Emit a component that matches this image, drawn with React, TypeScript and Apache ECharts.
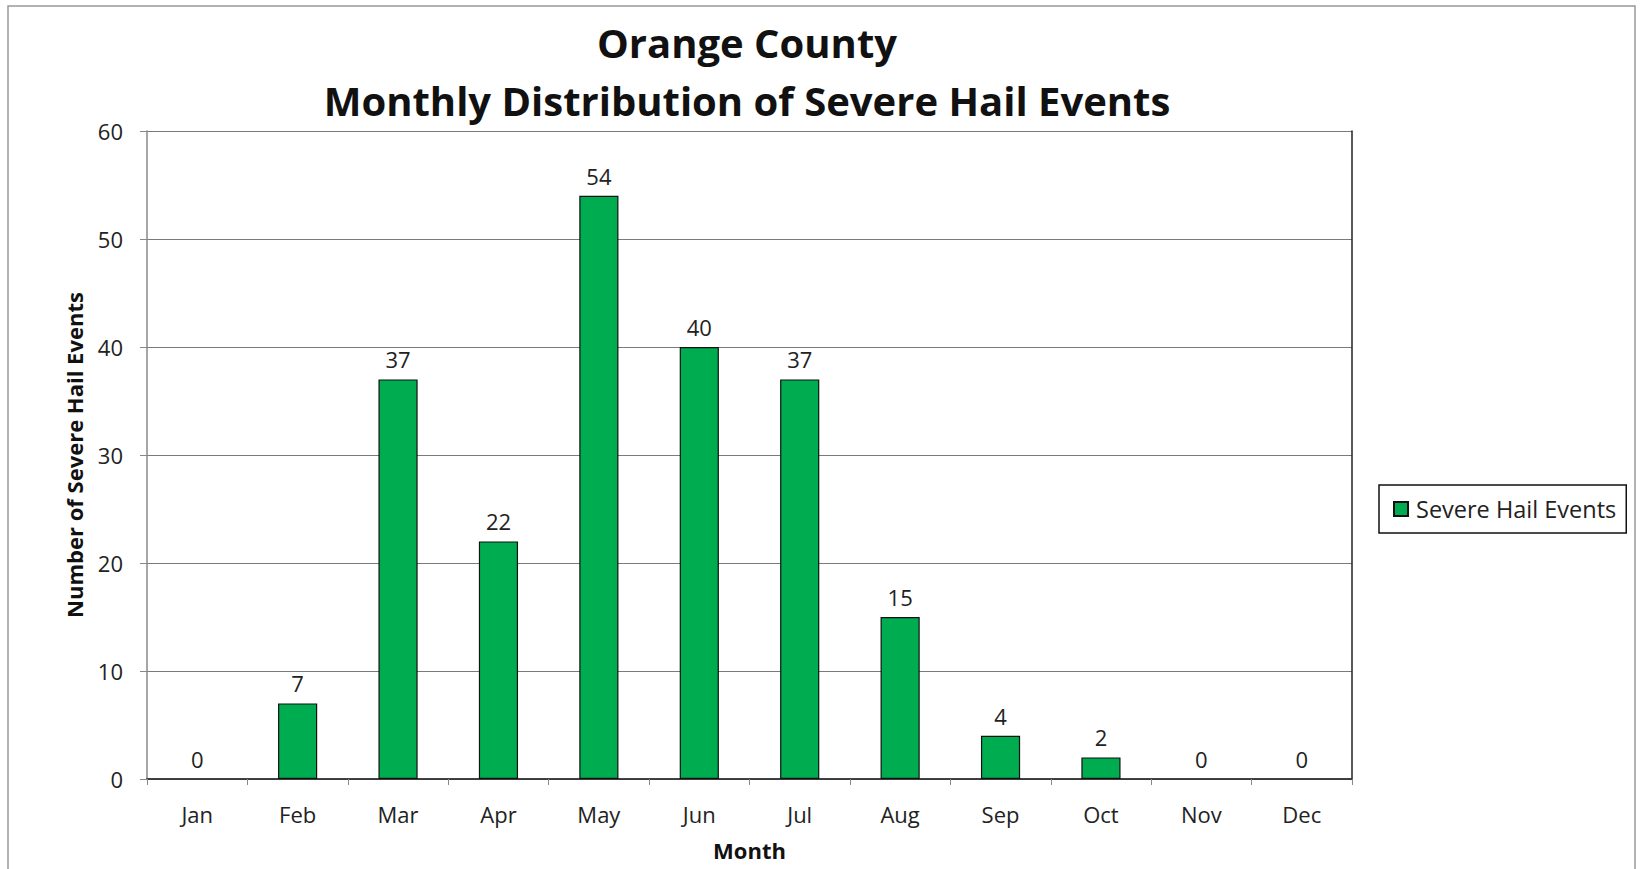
import React, { useEffect, useRef } from "react";
import * as echarts from "echarts";

const months = ["Jan", "Feb", "Mar", "Apr", "May", "Jun", "Jul", "Aug", "Sep", "Oct", "Nov", "Dec"];
const hailEvents = [0, 7, 37, 22, 54, 40, 37, 15, 4, 2, 0, 0];
const titleLines = ["Orange County", "Monthly Distribution of Severe Hail Events"];
const seriesName = "Severe Hail Events";

const FONT = "'Open Sans', 'Noto Sans', sans-serif";

export default function App() {
  const ref = useRef<HTMLDivElement>(null);
  useEffect(() => {
    if (!ref.current) return;
    const chart = echarts.init(ref.current, null, { renderer: "svg" });
    chart.setOption({
      animation: false,
      backgroundColor: "#ffffff",
      title: {
        text: titleLines.join("\n"),
        left: 742,
        textAlign: "center",
        top: 8,
        textStyle: {
          fontFamily: FONT,
          fontWeight: "bold",
          fontSize: 40,
          lineHeight: 58,
          color: "#111",
        },
      },
      legend: {
        data: [{ name: seriesName, icon: "rect" }],
        left: 1379,
        top: 485,
        orient: "vertical",
        itemWidth: 14,
        itemHeight: 14,
        padding: [12, 10, 12, 14],
        itemGap: 4,
        borderColor: "#111",
        borderWidth: 1.5,
        textStyle: { fontFamily: FONT, fontSize: 23.5, color: "#222", padding: [0, 0, 0, 3] },
      },
      grid: {
        left: 147,
        top: 131,
        width: 1205,
        height: 648,
        containLabel: false,
        outerBoundsMode: "none",
      },
      xAxis: [
        {
          type: "category",
          data: months,
          name: "Month",
          nameLocation: "middle",
          nameGap: 60,
          nameTextStyle: { fontFamily: FONT, fontWeight: "bold", fontSize: 22, color: "#111" },
          axisLine: { lineStyle: { color: "#888", width: 1.5 } },
          axisTick: { show: true, length: 6, lineStyle: { color: "#888" } },
          axisLabel: { fontFamily: FONT, fontSize: 22, color: "#222", margin: 24 },
        },
        {
          type: "category",
          data: months,
          position: "top",
          axisLine: { show: true, lineStyle: { color: "#222", width: 1.5 } },
          axisTick: { show: false },
          axisLabel: { show: false },
        },
      ],
      yAxis: [
        {
          type: "value",
          min: 0,
          max: 60,
          interval: 10,
          name: "Number of Severe Hail Events",
          nameLocation: "middle",
          nameGap: 62,
          nameTextStyle: { fontFamily: FONT, fontWeight: "bold", fontSize: 22, color: "#111" },
          axisLine: { show: true, lineStyle: { color: "#888", width: 1.5 } },
          axisTick: { show: true, length: 7, lineStyle: { color: "#888" } },
          axisLabel: { fontFamily: FONT, fontSize: 22, color: "#222", margin: 24 },
          splitLine: { lineStyle: { color: "#7a7a7a", width: 1.2 } },
        },
        {
          type: "value",
          min: 0,
          max: 60,
          interval: 10,
          position: "right",
          axisLine: { show: true, lineStyle: { color: "#222", width: 1.5 } },
          axisTick: { show: false },
          axisLabel: { show: false },
          splitLine: { show: false },
        },
      ],
      series: [
        {
          name: seriesName,
          type: "bar",
          data: hailEvents.map((v) => ({
            value: v,
            itemStyle: v === 0 ? { borderWidth: 0 } : undefined,
          })),
          barWidth: "39%",
          itemStyle: { color: "#00AC50", borderColor: "#111", borderWidth: 1.2 },
          label: {
            show: true,
            position: "top",
            distance: 9,
            fontFamily: FONT,
            fontSize: 22,
            color: "#222",
          },
        },
      ],
      graphic: [
        {
          type: "rect",
          shape: { x: 8, y: 6, width: 1627, height: 900 },
          style: { fill: "none", stroke: "#999", lineWidth: 1.5 },
          silent: true,
          z: -1,
        },
      ],
    });
    return () => chart.dispose();
  }, []);
  return (
    <div
      ref={ref}
      style={{ position: "fixed", left: 0, top: 0, width: 1643, height: 869, background: "#fff" }}
    />
  );
}
